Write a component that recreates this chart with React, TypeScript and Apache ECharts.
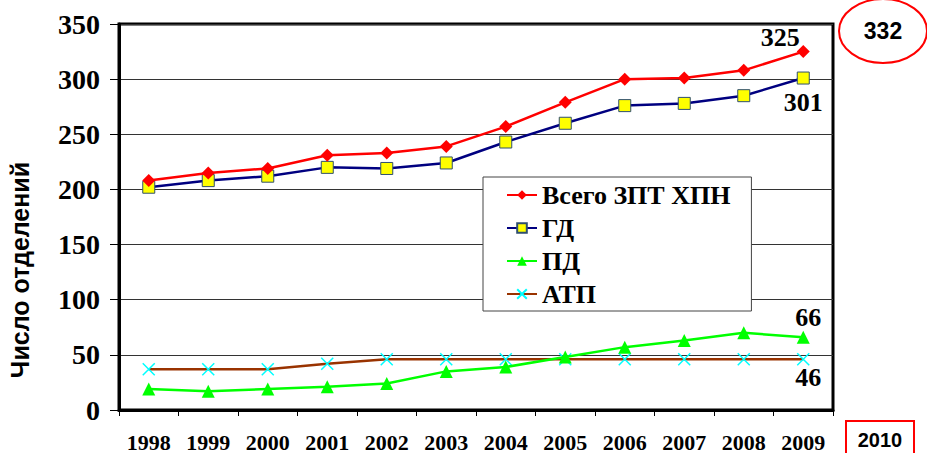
import React, { useEffect, useRef } from "react";
import * as echarts from "echarts";

const years = ["1998", "1999", "2000", "2001", "2002", "2003", "2004", "2005", "2006", "2007", "2008", "2009"];
const total = [208, 215, 219, 231, 233, 239, 257, 279, 300, 301, 308, 325];
const gd = [202, 208, 212, 220, 219, 224, 243, 260, 276, 278, 285, 301];
const pd = [19, 17, 19, 21, 24, 35, 39, 48, 57, 63, 70, 66];
const atp = [37, 37, 37, 42, 46, 46, 46, 46, 46, 46, 46, 46];
const seriesNames = ["Всего ЗПТ ХПН", "ГД", "ПД", "АТП"];
const yTicks = { min: 0, max: 350, interval: 50 };
const note2010 = "2010";
const note332 = "332";
const yAxisName = "Число отделений";

const serif = "'Liberation Serif', 'Times New Roman', serif";
const sans = "'Liberation Sans', Arial, sans-serif";

function withEndLabel(values: number[], offset: number[]) {
  return values.map((v, i) =>
    i === values.length - 1
      ? {
          value: v,
          label: {
            show: true,
            position: "inside",
            offset,
            formatter: String(v),
            fontFamily: serif,
            fontWeight: "bold",
            fontSize: 26,
            color: "#000",
          },
        }
      : v
  );
}

export default function App() {
  const ref = useRef<HTMLDivElement>(null);
  useEffect(() => {
    if (!ref.current) return;
    const chart = echarts.init(ref.current, null, { renderer: "svg" });
    chart.setOption({
      animation: false,
      backgroundColor: "#fff",
      grid: {
        left: 119,
        right: 94,
        top: 24,
        bottom: 41,
        show: true,
        borderColor: "#000",
        borderWidth: 3,
        backgroundColor: "transparent",
      },
      legend: {
        orient: "vertical",
        left: 483,
        top: 177,
        data: seriesNames,
        itemWidth: 30,
        itemHeight: 12,
        itemGap: 7,
        padding: [5, 21, 4, 23],
        borderColor: "#444",
        borderWidth: 1,
        backgroundColor: "#fff",
        textStyle: {
          fontFamily: serif,
          fontWeight: "bold",
          fontSize: 26,
          color: "#000",
          lineHeight: 26,
        },
      },
      xAxis: {
        type: "category",
        data: years,
        boundaryGap: true,
        axisLine: { lineStyle: { color: "#000", width: 3 } },
        axisTick: { show: true, length: 6, lineStyle: { color: "#000", width: 1 } },
        axisLabel: {
          fontFamily: serif,
          fontWeight: "bold",
          fontSize: 22,
          color: "#000",
          margin: 21,
        },
        splitLine: { show: false },
      },
      yAxis: {
        type: "value",
        min: yTicks.min,
        max: yTicks.max,
        interval: yTicks.interval,
        axisLine: { show: true, lineStyle: { color: "#000", width: 3 } },
        axisTick: { show: true, length: 9, lineStyle: { color: "#000", width: 1 } },
        axisLabel: {
          fontFamily: serif,
          fontWeight: "bold",
          fontSize: 28,
          color: "#000",
          margin: 19,
        },
        splitLine: { show: true, lineStyle: { color: "#333", width: 1 } },
      },
      series: [
        {
          name: seriesNames[0],
          type: "line",
          data: withEndLabel(total, [-23, -14]),
          symbol: "diamond",
          symbolSize: 13,
          lineStyle: { color: "#ff0000", width: 2.5 },
          itemStyle: { color: "#ff0000" },
          z: 4,
        },
        {
          name: seriesNames[1],
          type: "line",
          data: withEndLabel(gd, [0, 24]),
          symbol: "rect",
          symbolSize: 12,
          lineStyle: { color: "#000080", width: 2.5 },
          itemStyle: { color: "#ffff00", borderColor: "#2f4f6f", borderWidth: 1 },
          z: 3,
        },
        {
          name: seriesNames[2],
          type: "line",
          data: withEndLabel(pd, [5, -20]),
          symbol: "triangle",
          symbolSize: 13,
          lineStyle: { color: "#00ff00", width: 2.5 },
          itemStyle: { color: "#00ff00" },
          z: 3,
        },
        {
          name: seriesNames[3],
          type: "line",
          data: withEndLabel(atp, [5, 18]),
          symbol: "path://M0,0L10,10M10,0L0,10",
          symbolSize: 12,
          lineStyle: { color: "#993300", width: 2.5 },
          itemStyle: { color: "none", borderColor: "#00ffff", borderWidth: 1.5 },
          z: 2,
        },
      ],
      graphic: [
        {
          type: "text",
          x: 20,
          y: 270,
          rotation: Math.PI / 2,
          style: {
            text: yAxisName,
            fontFamily: sans,
            fontWeight: "bold",
            fontSize: 25,
            fill: "#000",
            align: "center",
            verticalAlign: "middle",
          },
        },
        {
          type: "ellipse",
          shape: { cx: 883, cy: 31, rx: 44, ry: 32 },
          style: { fill: "none", stroke: "#ff0000", lineWidth: 2 },
        },
        {
          type: "text",
          x: 883,
          y: 31,
          style: {
            text: note332,
            fontFamily: sans,
            fontWeight: "bold",
            fontSize: 23,
            fill: "#000",
            align: "center",
            verticalAlign: "middle",
          },
        },
        {
          type: "rect",
          shape: { x: 846, y: 421, width: 68, height: 40 },
          style: { fill: "none", stroke: "#ff0000", lineWidth: 2 },
        },
        {
          type: "text",
          x: 880,
          y: 440,
          style: {
            text: note2010,
            fontFamily: sans,
            fontWeight: "bold",
            fontSize: 20,
            fill: "#000",
            align: "center",
            verticalAlign: "middle",
          },
        },
      ],
    });
    return () => chart.dispose();
  }, []);
  return (
    <div
      ref={ref}
      style={{ position: "fixed", left: 0, top: 0, width: 927, height: 453, background: "#fff" }}
    />
  );
}
